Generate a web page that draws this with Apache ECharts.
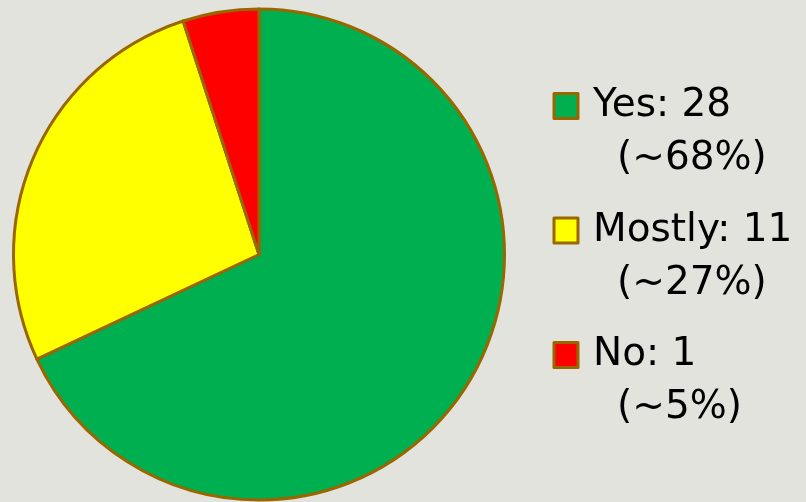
<!DOCTYPE html>
<html>
<head>
<meta charset="utf-8">
<script src="https://cdn.jsdelivr.net/npm/echarts@6/dist/echarts.min.js"></script>
<style>
html,body{margin:0;padding:0;background:#e3e3de;}
#chart{width:806px;height:502px;}
</style>
</head>
<body>
<div id="chart"></div>
<script>
// Data
const categories = ['Yes', 'Mostly', 'No'];
const counts = [28, 11, 1];
const sliceShares = [68, 27, 5];   // approximate percentages as drawn
const colors = ['#00b050', '#ffff00', '#ff0000'];

const chart = echarts.init(document.getElementById('chart'), null, {renderer: 'canvas'});

const seriesData = categories.map((c, i) => ({
  name: c,
  value: sliceShares[i],
  itemStyle: {color: colors[i]}
}));

const FONT = 'DejaVu Sans, sans-serif';
const option = {
  backgroundColor: '#e3e3de',
  animation: false,
  legend: {
    orient: 'vertical',
    left: 552.5,
    top: 86.5,
    padding: 0,
    itemGap: 32.5,
    itemWidth: 24,
    itemHeight: 25,
    icon: 'rect',
    selectedMode: false,
    itemStyle: {borderColor: '#996600', borderWidth: 3},
    formatter: function (name) {
      const i = categories.indexOf(name);
      return '{a|' + name + ': ' + counts[i] + '}\n{b|(~' + sliceShares[i] + '%)}';
    },
    textStyle: {
      fontFamily: FONT,
      fontSize: 39,
      color: '#000',
      padding: [53, 0, 0, 10],
      rich: {
        a: {fontSize: 39, lineHeight: 53, fontFamily: FONT, color: '#000'},
        b: {fontSize: 39, lineHeight: 53, fontFamily: FONT, color: '#000', padding: [0, 0, 0, 24]}
      }
    }
  },
  series: [{
    type: 'pie',
    center: [259, 254.5],
    radius: [0, 245.5],
    startAngle: 90,
    clockwise: true,
    label: {show: false},
    labelLine: {show: false},
    emphasis: {disabled: true},
    itemStyle: {borderColor: '#996600', borderWidth: 3},
    data: seriesData
  }]
};
chart.setOption(option);
</script>
</body>
</html>
